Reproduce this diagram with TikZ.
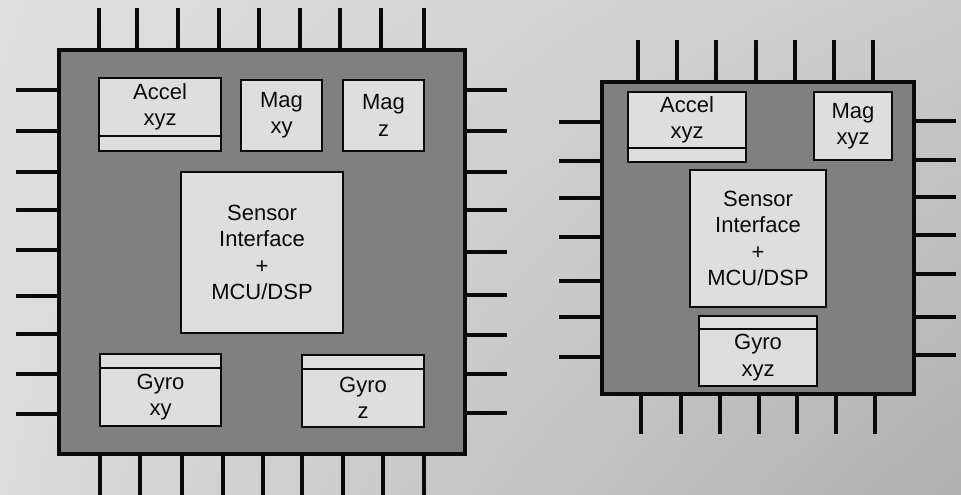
\documentclass[tikz,border=0pt]{standalone}
\usepackage{fontspec}
\setmainfont{Liberation Sans}
\usetikzlibrary{shadings}
\definecolor{bgul}{HTML}{E0E0E0}
\definecolor{bgur}{HTML}{CBCBCB}
\definecolor{bgll}{HTML}{DCDCDC}
\definecolor{bglr}{HTML}{B0B0B0}
\definecolor{chipfill}{HTML}{808080}
\definecolor{boxfill}{HTML}{DEDEDE}
\definecolor{ink}{HTML}{0A0A0A}
\begin{document}
\begin{tikzpicture}[x=1pt,y=-1pt,
  chip/.style={draw=ink, fill=chipfill, line width=3.2pt, inner sep=0pt},
  pin/.style={draw=ink, line width=3.1pt},
  box/.style={draw=ink, fill=boxfill, line width=1.7pt, inner sep=0pt, align=center,
    text=ink, font=\fontsize{22}{26.4}\selectfont}]
\useasboundingbox (0,0) rectangle (961,495);
\shade[upper left=bgul, upper right=bgur, lower left=bgll, lower right=bglr] (0,0) rectangle (961,495);

% ---- left chip ----
\foreach \x in {99,137,178,219,259,300,340,381,424} \draw[pin] (\x,50) -- (\x,8);
\foreach \x in {100,140,182,223,263,302,343,383,424} \draw[pin] (\x,454) -- (\x,497);
\foreach \y in {90,131,172,210,250,296,334,374,414} \draw[pin] (59,\y) -- (16,\y);
\foreach \y in {90,131,172,210,252,295,335,374,413} \draw[pin] (465,\y) -- (507,\y);
\node[chip, minimum width=406, minimum height=404] (chipL) at (262,252) {};

\node[box, minimum width=122, minimum height=58] (accL) at (160,107) {Accel\\xyz};
\node[box, minimum width=122, minimum height=15] (accLs) at (160,143.5) {};
\node[box, minimum width=81, minimum height=71] (magxyL) at (281.5,115.5) {Mag\\xy};
\node[box, minimum width=81, minimum height=71] (magzL) at (383.5,115.5) {Mag\\z};
\node[box, minimum width=162, minimum height=161] (sensL) at (262,252.5) {Sensor\\Interface\\+\\MCU/DSP};
\node[box, minimum width=121, minimum height=14] (gxyLs) at (160.5,361) {};
\node[box, minimum width=121, minimum height=58] (gxyL) at (160.5,397) {Gyro\\xy};
\node[box, minimum width=122, minimum height=14] (gzLs) at (363,362) {};
\node[box, minimum width=122, minimum height=58] (gzL) at (363,398) {Gyro\\z};

% ---- right chip ----
\foreach \x in {638,677,716,756,795,834,873} \draw[pin] (\x,82) -- (\x,40);
\foreach \x in {641,681,720,759,797,836,875} \draw[pin] (\x,394) -- (\x,434);
\foreach \y in {122,161,198,237,281,317,357} \draw[pin] (602,\y) -- (559,\y);
\foreach \y in {121,160,197,235,274,317,355} \draw[pin] (914,\y) -- (956,\y);
\node[chip, minimum width=312, minimum height=312] (chipR) at (758,238) {};

\node[box, minimum width=118, minimum height=56] (accR) at (687,120) {Accel\\xyz};
\node[box, minimum width=118, minimum height=14] (accRs) at (687,155) {};
\node[box, minimum width=78, minimum height=68] (magR) at (853,126) {Mag\\xyz};
\node[box, minimum width=136, minimum height=137] (sensR) at (758,238.5) {Sensor\\Interface\\+\\MCU/DSP};
\node[box, minimum width=118, minimum height=13] (gyrRs) at (758,322.5) {};
\node[box, minimum width=118, minimum height=57] (gyrR) at (758,357.5) {Gyro\\xyz};
\end{tikzpicture}
\end{document}
